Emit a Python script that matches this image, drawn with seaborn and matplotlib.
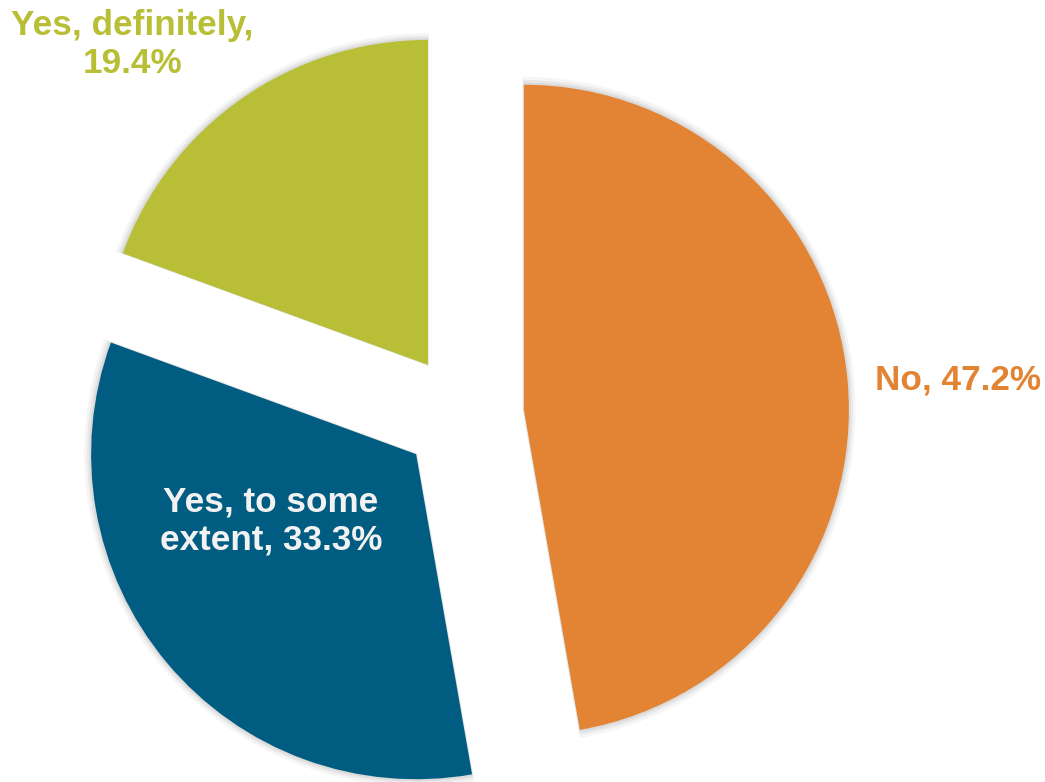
import matplotlib
matplotlib.use("Agg")
import matplotlib.pyplot as plt
import seaborn as sns

sns.set_theme(style="white")
plt.rcParams['font.family'] = ['Liberation Sans', 'DejaVu Sans']

categories = ["No", "Yes, to some extent", "Yes, definitely"]
values = [47.2, 33.3, 19.4]
label_texts = ["No, 47.2%", "Yes, to some\nextent, 33.3%", "Yes, definitely,\n19.4%"]
colors = ["#E28434", "#015C82", "#B8BF36"]
label_colors = ["#E28434", "#F2F2F2", "#B8BF36"]

fig = plt.figure(figsize=(10.45, 7.82), dpi=100)
ax = fig.add_axes([0, 0, 1, 1])

explode = [0.188] * len(values)

# soft shadow layers
for k, (r, a) in enumerate([(1.025, 0.04), (1.015, 0.05), (1.007, 0.06)]):
    w, _ = ax.pie(values, explode=[e / r for e in explode], startangle=90,
                  counterclock=False, radius=r,
                  colors=["#000000"] * 3,
                  wedgeprops=dict(alpha=a, linewidth=0))
    for wedge in w:
        wedge.set_zorder(0)

wedges, _ = ax.pie(values, explode=explode, startangle=90, counterclock=False,
                   radius=1.0, colors=colors, wedgeprops=dict(linewidth=0))
for wedge in wedges:
    wedge.set_zorder(2)

label_pos = [(1.523, 0.108), (-0.591, -0.325), (-1.018, 1.140)]
for txt, (x, y), c in zip(label_texts, label_pos, label_colors):
    ax.text(x, y, txt, ha="center", va="center", color=c, fontsize=25.3,
            fontweight="bold", linespacing=1.2, zorder=5)

ax.set_xlim(-463 / 325, (1045 - 463) / 325)
ax.set_ylim(-(782 - 415) / 325, 415 / 325)
ax.set_aspect("auto")
ax.axis("off")

fig.savefig("out.png", dpi=100, facecolor="white")
